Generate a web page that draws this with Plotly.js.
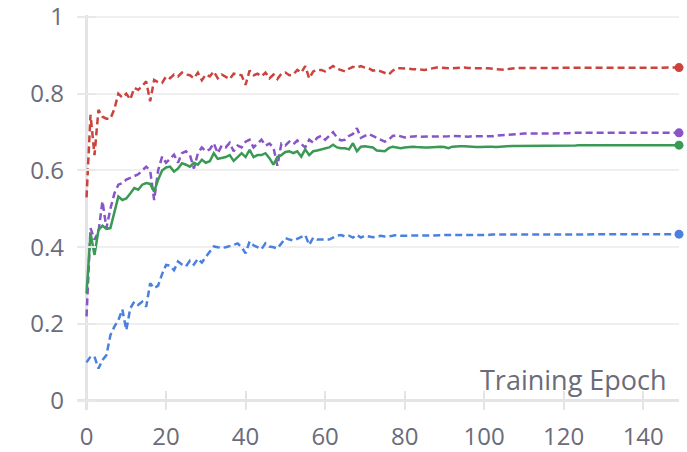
<!DOCTYPE html>
<html>
<head>
<meta charset="utf-8">
<script src="https://cdn.plot.ly/plotly-3.0.1.min.js"></script>
<style>html,body{margin:0;padding:0;background:#fff;}#chart{width:687px;height:452px;}</style>
</head>
<body>
<div id="chart"></div>
<script>
const epochs = [
0,1,2,3,4,5,6,7,8,9,10,11,12,13,14,15,16,17,18,19,
20,21,22,23,24,25,26,27,28,29,30,31,32,33,34,35,36,37,38,39,
40,41,42,43,44,45,46,47,48,49,50,51,52,53,54,55,56,57,58,59,
60,61,62,63,64,65,66,67,68,69,70,71,72,73,74,75,76,77,78,79,
80,81,82,83,84,85,86,87,88,89,90,91,92,93,94,95,96,97,98,99,
100,101,102,103,104,105,106,107,108,109,110,111,112,113,114,115,116,117,118,119,
120,121,122,123,124,125,126,127,128,129,130,131,132,133,134,135,136,137,138,139,
140,141,142,143,144,145,146,147,148,149];

const redSeries = [
0.53,0.745,0.64,0.758,0.74,0.735,0.735,0.76,0.80,0.79,
0.80,0.785,0.815,0.81,0.82,0.832,0.78,0.836,0.83,0.828,
0.845,0.84,0.85,0.845,0.855,0.85,0.848,0.84,0.855,0.835,
0.85,0.845,0.858,0.84,0.85,0.845,0.838,0.852,0.85,0.848,
0.823,0.86,0.848,0.852,0.845,0.855,0.84,0.85,0.838,0.852,
0.855,0.848,0.85,0.862,0.855,0.872,0.84,0.858,0.862,0.862,
0.858,0.865,0.872,0.865,0.862,0.858,0.865,0.87,0.868,0.872,
0.868,0.866,0.86,0.862,0.858,0.855,0.85,0.86,0.866,0.866,
0.866,0.865,0.864,0.863,0.862,0.862,0.864,0.866,0.868,0.868,
0.867,0.866,0.866,0.867,0.868,0.868,0.867,0.866,0.866,0.866,
0.867,0.866,0.865,0.864,0.863,0.862,0.864,0.866,0.867,0.867,
0.867,0.867,0.868,0.868,0.867,0.867,0.867,0.868,0.868,0.868,
0.868,0.867,0.867,0.867,0.868,0.868,0.868,0.867,0.867,0.868,
0.868,0.868,0.868,0.867,0.867,0.868,0.868,0.868,0.868,0.868,
0.868,0.868,0.867,0.867,0.868,0.868,0.868,0.868,0.868,0.868];

const purpleSeries = [
0.22,0.45,0.42,0.44,0.52,0.45,0.50,0.54,0.563,0.567,
0.576,0.58,0.584,0.59,0.60,0.61,0.60,0.523,0.60,0.636,
0.62,0.63,0.641,0.62,0.645,0.65,0.64,0.605,0.645,0.66,
0.65,0.655,0.671,0.645,0.665,0.66,0.672,0.65,0.665,0.66,
0.675,0.68,0.66,0.67,0.68,0.665,0.67,0.66,0.612,0.67,
0.665,0.675,0.668,0.678,0.67,0.66,0.68,0.672,0.685,0.69,
0.68,0.69,0.70,0.685,0.678,0.68,0.69,0.695,0.71,0.685,
0.69,0.695,0.69,0.685,0.68,0.675,0.68,0.69,0.692,0.688,
0.686,0.688,0.689,0.689,0.688,0.688,0.689,0.689,0.689,0.689,
0.689,0.689,0.69,0.689,0.689,0.688,0.688,0.689,0.689,0.689,
0.688,0.688,0.689,0.691,0.692,0.693,0.693,0.694,0.695,0.695,
0.696,0.696,0.696,0.697,0.697,0.697,0.697,0.697,0.697,0.697,
0.697,0.697,0.698,0.698,0.697,0.697,0.697,0.698,0.698,0.698,
0.698,0.697,0.697,0.697,0.698,0.698,0.698,0.698,0.697,0.697,
0.697,0.698,0.698,0.698,0.698,0.698,0.698,0.698,0.698,0.698];

const greenSeries = [
0.28,0.437,0.38,0.445,0.456,0.448,0.45,0.493,0.532,0.523,
0.527,0.54,0.554,0.55,0.563,0.567,0.565,0.545,0.576,0.60,
0.608,0.61,0.597,0.605,0.619,0.615,0.61,0.62,0.615,0.628,
0.62,0.624,0.645,0.63,0.632,0.635,0.64,0.625,0.635,0.645,
0.635,0.654,0.635,0.64,0.64,0.645,0.632,0.615,0.635,0.64,
0.648,0.65,0.645,0.65,0.636,0.655,0.64,0.65,0.652,0.655,
0.658,0.66,0.667,0.66,0.658,0.658,0.655,0.671,0.65,0.662,
0.663,0.662,0.66,0.652,0.65,0.65,0.658,0.662,0.66,0.658,
0.66,0.662,0.662,0.661,0.66,0.66,0.66,0.661,0.662,0.662,
0.661,0.658,0.662,0.663,0.663,0.663,0.662,0.662,0.661,0.661,
0.662,0.662,0.662,0.661,0.662,0.663,0.663,0.664,0.664,0.664,
0.664,0.664,0.665,0.665,0.665,0.665,0.665,0.665,0.664,0.664,
0.665,0.665,0.665,0.665,0.666,0.666,0.666,0.665,0.665,0.665,
0.665,0.665,0.666,0.666,0.666,0.666,0.666,0.666,0.666,0.666,
0.666,0.666,0.666,0.666,0.666,0.666,0.666,0.666,0.666,0.666];

const blueSeries = [
0.10,0.115,0.115,0.084,0.106,0.119,0.171,0.193,0.21,0.238,
0.184,0.241,0.258,0.25,0.258,0.245,0.306,0.293,0.30,0.33,
0.354,0.352,0.34,0.363,0.355,0.35,0.365,0.355,0.37,0.36,
0.375,0.39,0.402,0.40,0.398,0.40,0.402,0.406,0.41,0.40,
0.384,0.415,0.405,0.40,0.395,0.41,0.402,0.40,0.397,0.41,
0.424,0.42,0.418,0.422,0.428,0.432,0.406,0.425,0.42,0.42,
0.42,0.42,0.425,0.43,0.432,0.428,0.43,0.425,0.432,0.425,
0.43,0.428,0.426,0.428,0.43,0.428,0.428,0.43,0.432,0.43,
0.43,0.43,0.43,0.43,0.431,0.431,0.431,0.431,0.431,0.431,
0.432,0.432,0.432,0.431,0.431,0.432,0.432,0.432,0.432,0.432,
0.432,0.432,0.433,0.433,0.433,0.433,0.433,0.433,0.433,0.433,
0.433,0.433,0.433,0.434,0.434,0.434,0.434,0.434,0.434,0.434,
0.434,0.434,0.434,0.434,0.434,0.434,0.434,0.434,0.434,0.434,
0.434,0.434,0.434,0.434,0.434,0.434,0.434,0.434,0.434,0.434,
0.434,0.434,0.434,0.434,0.434,0.434,0.434,0.434,0.434,0.434];

const xTickVals = [0,20,40,60,80,100,120,140];
const yTickVals = [0,0.2,0.4,0.6,0.8,1];
const yTickText = ['0','0.2','0.4','0.6','0.8','1'];
const axisTitle = 'Training Epoch';

const series = [
  {y: redSeries, color: 'rgb(204,66,60)', dash: '7px,4px'},
  {y: purpleSeries, color: 'rgb(137,84,201)', dash: '7px,4px'},
  {y: greenSeries, color: 'rgb(58,153,84)', dash: 'solid'},
  {y: blueSeries, color: 'rgb(74,129,224)', dash: '7px,4px'}
];

const traces = [];
series.forEach(s => {
  traces.push({
    x: epochs, y: s.y, type: 'scatter', mode: 'lines',
    line: {color: s.color, width: 2.5, dash: s.dash},
    hoverinfo: 'skip', showlegend: false
  });
});
series.forEach(s => {
  const n = s.y.length - 1;
  traces.push({
    x: [epochs[n]], y: [s.y[n]], type: 'scatter', mode: 'markers',
    marker: {color: s.color, size: 9}, cliponaxis: false,
    hoverinfo: 'skip', showlegend: false
  });
});

const tickFont = {family: 'Open Sans, sans-serif', size: 24, color: '#6b6b7a'};

const layout = {
  width: 687, height: 452,
  margin: {l: 77, r: 8, t: 15, b: 42, pad: 0},
  paper_bgcolor: '#fff', plot_bgcolor: '#fff',
  showlegend: false,
  xaxis: {
    range: [-2.4, 149], tickvals: xTickVals, ticktext: xTickVals.map(String),
    showgrid: false, showline: false,
    zeroline: true, zerolinecolor: '#e4e4e8', zerolinewidth: 3,
    ticks: 'inside', ticklen: 19, tickwidth: 2, tickcolor: '#e4e4e8',
    tickfont: tickFont, ticklabelstandoff: 10, ticklabeloverflow: 'allow'
  },
  yaxis: {
    range: [-0.024, 1.005], tickvals: yTickVals, ticktext: yTickText,
    showgrid: true, gridcolor: '#efeff1', gridwidth: 2,
    showline: false,
    zeroline: true, zerolinecolor: '#e4e4e8', zerolinewidth: 3,
    ticks: 'inside', ticklen: 19, tickwidth: 2, tickcolor: '#e8e8eb',
    tickfont: tickFont, ticklabelstandoff: 12, ticklabeloverflow: 'allow'
  },
  annotations: [{
    text: axisTitle, xref: 'paper', yref: 'paper',
    x: 0.983, y: 0.025, xanchor: 'right', yanchor: 'bottom',
    showarrow: false,
    font: {family: 'Open Sans, sans-serif', size: 27, color: '#6b6b7a'}
  }]
};

Plotly.newPlot('chart', traces, layout, {displayModeBar: false, staticPlot: true});
</script>
</body>
</html>
